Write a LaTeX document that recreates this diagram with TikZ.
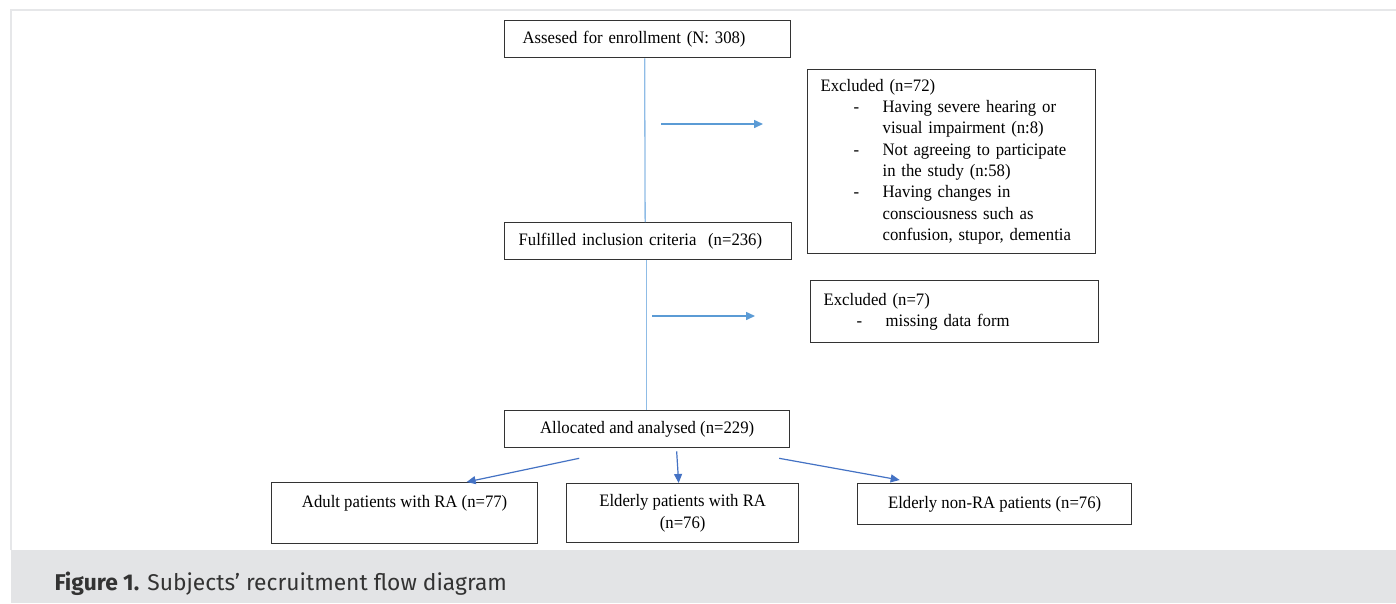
\documentclass[tikz,border=0pt]{standalone}
\usepackage{fontspec}
\setmainfont{Liberation Serif}[FakeStretch=0.955]
\newfontfamily\capfont{Fira Sans}
\usetikzlibrary{arrows.meta}
\definecolor{framegray}{HTML}{E6E7E9}
\definecolor{bandgray}{HTML}{E3E4E6}
\definecolor{linkblue}{HTML}{8FBCE6}
\definecolor{sideblue}{HTML}{5B9BD5}
\definecolor{splitblue}{HTML}{4472C4}
\definecolor{captext}{HTML}{333333}
\tikzset{
	box/.style={draw=black!80,line width=1.3pt,rectangle,inner sep=0pt,anchor=north west,font=\fontsize{17.5}{21.3}\selectfont},
	vline/.style={draw=linkblue,line width=1.3pt},
	sidearrow/.style={draw=sideblue,line width=1.5pt,-{Triangle[length=9pt,width=8pt]}},
	splitarrow/.style={draw=splitblue,line width=1.2pt,-{Triangle[length=9pt,width=8pt]}}
}

\begin{document}
\begin{tikzpicture}[x=1pt,y=-1pt]
		\fill[white] (0,0) rectangle (1396,603);
		\useasboundingbox (0,0) rectangle (1396,603);
		\draw[framegray,line width=1.5pt] (11,550) -- (11,10) -- (1396,10);
		\fill[bandgray] (11,550) rectangle (1396,603);
		\node[anchor=base west,text=captext,font=\capfont\fontsize{22.8}{27}\selectfont] (cap) at (51,590) {\textbf{Figure 1.} Subjects’ recruitment flow diagram};
		\node[box,minimum height=37pt,text width=250pt,inner xsep=18pt,align=left] (assess) at (504,20) {Assesed for enrollment (N: 308)};
		\node[box,minimum height=37pt,text width=259pt,inner xsep=14pt,align=left] (incl) at (504,222) {Fulfilled inclusion criteria\ \ (n=236)};
		\node[box,minimum height=184pt,text width=262pt,inner xsep=13pt,align=left] (excl1) at (807,69) {Excluded (n=72)\\
			\hspace*{33pt}\makebox[29pt][l]{-}Having severe hearing or\\
			\hspace*{62pt}visual impairment (n:8)\\
			\hspace*{33pt}\makebox[29pt][l]{-}Not agreeing to participate\\
			\hspace*{62pt}in the study (n:58)\\
			\hspace*{33pt}\makebox[29pt][l]{-}Having changes in\\
			\hspace*{62pt}consciousness such as\\
			\hspace*{62pt}confusion, stupor, dementia};
		\node[box,minimum height=62pt,text width=262pt,inner xsep=13pt,align=left] (excl2) at (810,280) {Excluded (n=7)\\
			\hspace*{33pt}\makebox[29pt][l]{-}missing data form};
		\node[box,minimum width=285pt,minimum height=37pt] (alloc) at (504,410) {Allocated and analysed (n=229)};
		\node[box,minimum width=266pt,text height=25pt,text depth=36pt] (adult) at (271,482) {Adult patients with RA (n=77)};
		\node[box,minimum width=232pt,minimum height=59pt,align=center] (eldra) at (566,483) {Elderly patients with RA\\(n=76)};
		\node[box,minimum width=274pt,minimum height=41pt] (nonra) at (857,483) {Elderly non-RA patients (n=76)};
		\coordinate (s1) at (661,124);\coordinate (e1) at (763,124);
		\coordinate (s2) at (652,316);\coordinate (e2) at (755,316);
		\draw[vline] ([xshift=-3pt]assess.south) -- ([xshift=-3pt]incl.north);
		\draw[vline] ([xshift=-2pt]incl.south) -- ([xshift=-1pt]alloc.north);
		\draw[sidearrow] (s1) -- (e1);
		\draw[sidearrow] (s2) -- (e2);
		\draw[splitarrow] ([xshift=-68pt,yshift=-10pt]alloc.south) -- ([xshift=62pt]adult.north);
		\draw[splitarrow] ([xshift=29.5pt,yshift=-3pt]alloc.south) -- ([xshift=-4pt]eldra.north);
		\draw[splitarrow] ([xshift=132pt,yshift=-10pt]alloc.south) -- ([xshift=-95pt,yshift=3pt]nonra.north);
	\end{tikzpicture}
\end{document}
